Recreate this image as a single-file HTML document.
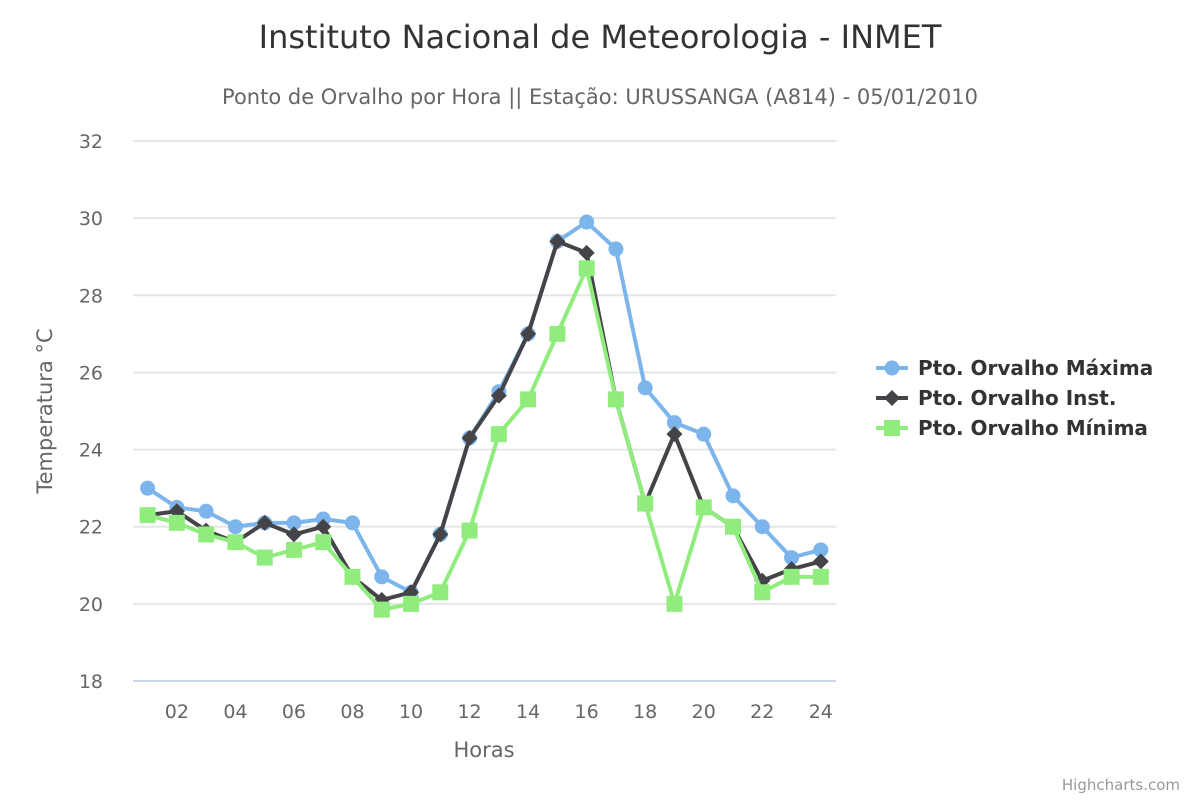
<!DOCTYPE html>
<html><head><meta charset="utf-8"><style>
body{margin:0;background:#fff;font-family:"DejaVu Sans","Liberation Sans",sans-serif;}
svg text{font-family:"DejaVu Sans","Liberation Sans",sans-serif;}
</style></head><body>
<svg id="chart" width="1200" height="800" xmlns="http://www.w3.org/2000/svg">
<text x="600" y="48" text-anchor="middle" font-size="32" fill="#333">Instituto Nacional de Meteorologia - INMET</text>
<text x="600" y="104" text-anchor="middle" font-size="21" fill="#666">Ponto de Orvalho por Hora || Estação: URUSSANGA (A814) - 05/01/2010</text>
<g id="grid"></g><g id="series"></g>
<text x="484" y="757" text-anchor="middle" font-size="21" fill="#666">Horas</text>
<text transform="translate(52,411) rotate(-90)" text-anchor="middle" font-size="21" fill="#666">Temperatura °C</text>
<g id="legend"></g>
<text x="1180" y="790" text-anchor="end" font-size="15" fill="#999">Highcharts.com</text>
</svg>
<script>
const hours=[1,2,3,4,5,6,7,8,9,10,11,12,13,14,15,16,17,18,19,20,21,22,23,24];
const maxVals=[23.0,22.5,22.4,22.0,22.1,22.1,22.2,22.1,20.7,20.3,21.8,24.3,25.5,27.0,29.4,29.9,29.2,25.6,24.7,24.4,22.8,22.0,21.2,21.4];
const instVals=[22.3,22.4,21.9,21.6,22.1,21.8,22.0,20.7,20.1,20.3,21.8,24.3,25.4,27.0,29.4,29.1,25.3,22.6,24.4,22.5,22.0,20.6,20.9,21.1];
const minVals=[22.3,22.1,21.8,21.6,21.2,21.4,21.6,20.7,19.85,20.0,20.3,21.9,24.4,25.3,27.0,28.7,25.3,22.6,20.0,22.5,22.0,20.3,20.7,20.7];
const yTicks=[18,20,22,24,26,28,30,32];
const xTicks=["02","04","06","08","10","12","14","16","18","20","22","24"];
const seriesNames=["Pto. Orvalho Máxima","Pto. Orvalho Inst.","Pto. Orvalho Mínima"];
const NS="http://www.w3.org/2000/svg";
const X=h=>147.6+(h-1)*29.27, Y=v=>681-(v-18)*38.57;
function mk(t,a,p){const e=document.createElementNS(NS,t);for(const k in a)e.setAttribute(k,a[k]);p.appendChild(e);return e;}
const grid=document.getElementById('grid');
yTicks.forEach(v=>{
 const l=mk('line',{x1:133,x2:836,y1:Y(v),y2:Y(v),stroke:v==18?'#ccd6eb':'#e6e6e6','stroke-width':2},grid);
 
 
 const t=mk('text',{x:103,y:Y(v)+7,'text-anchor':'end','font-size':19,fill:'#666'},grid);t.textContent=v;
 
 
});
xTicks.forEach(s=>{
 const t=mk('text',{x:X(+s),y:718,'text-anchor':'middle','font-size':19,fill:'#666'},grid);t.textContent=s;
 
 
});
const sg=document.getElementById('series');
const colors=['#7cb5ec','#434348','#90ed7d'];
function marker(type,x,y,c,p){
 let e;
 if(type==0)e=mk('circle',{cx:x,cy:y,r:7.5,fill:c},p);
 else if(type==1)e=mk('path',{d:`M${x} ${y-8}L${x+8} ${y}L${x} ${y+8}L${x-8} ${y}Z`,fill:c},p);
 else e=mk('rect',{x:x-8,y:y-8,width:16,height:16,fill:c},p);
 return e;
}
[maxVals,instVals,minVals].forEach((vals,i)=>{
 const g=mk('g',{},sg);
 
 
 const pl=mk('polyline',{points:vals.map((v,j)=>X(hours[j])+','+Y(v)).join(' '),fill:'none',stroke:colors[i],'stroke-width':4,'stroke-linejoin':'round'},g);
 
 
 vals.forEach((v,j)=>{const m=marker(i,X(hours[j]),Y(v),colors[i],g);
  
  });
});
const lg=document.getElementById('legend');
seriesNames.forEach((n,i)=>{
 const y=368+i*30;
 const g=mk('g',{},lg);
 
 
 mk('line',{x1:876,x2:908,y1:y,y2:y,stroke:colors[i],'stroke-width':4},g);
 marker(i,892,y,colors[i],g);
 const t=mk('text',{x:918,y:y+7,'font-size':20,'font-weight':'bold',fill:'#333'},g);t.textContent=n;
});
</script>
</body></html>
